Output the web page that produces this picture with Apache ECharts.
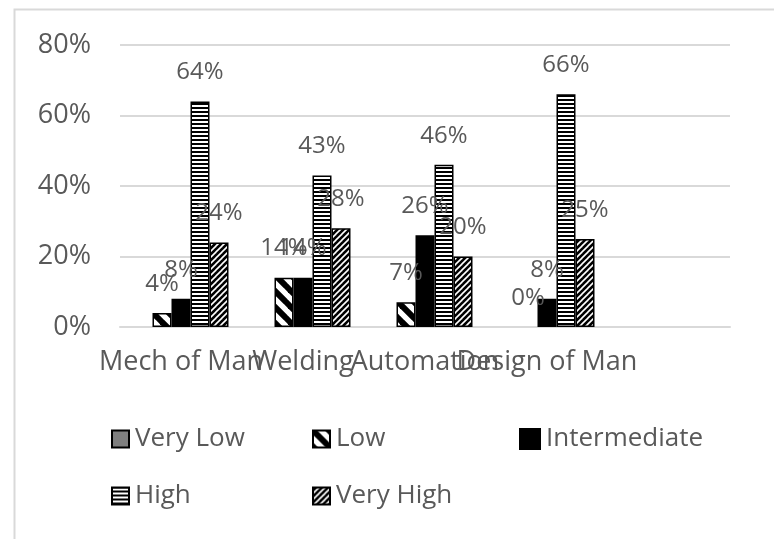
<!DOCTYPE html>
<html>
<head>
<meta charset="utf-8">
<script src="https://cdn.jsdelivr.net/npm/echarts@6/dist/echarts.min.js"></script>
<style>
  html, body { margin: 0; padding: 0; background: #fff; }
  #chart { width: 774px; height: 539px; }
</style>
</head>
<body>
<div id="chart"></div>
<script>
// Survey results per course, in percent
const categories = ['Mech of Man', 'Welding', 'Automation', 'Design of Man', ''];
const seriesNames = ['Very Low', 'Low', 'Intermediate', 'High', 'Very High'];
const veryLow      = [null, null, null, null, null];
const low          = [4, 14, 7, 0, null];
const intermediate = [8, 14, 26, 8, null];
const high         = [64, 43, 46, 66, null];
const veryHigh     = [24, 28, 20, 25, null];
const yTicks = { min: 0, max: 80, step: 20 };

const FONT = '"Open Sans", sans-serif';
const TEXT = '#595959';
const GRID = '#d9d9d9';

// Fill patterns drawn on small tiles
function tile(size, draw) {
  const c = document.createElement('canvas');
  c.width = size; c.height = size;
  const ctx = c.getContext('2d');
  draw(ctx, size);
  return { image: c, repeat: 'repeat' };
}
// wide downward diagonal: black "\" bands on white
const patLow = tile(16, (ctx, s) => {
  ctx.fillStyle = '#fff'; ctx.fillRect(0, 0, s, s);
  ctx.strokeStyle = '#000'; ctx.lineWidth = 6;
  for (let k = -1; k <= 1; k++) {
    ctx.beginPath(); ctx.moveTo(k * s - 2, -2); ctx.lineTo(k * s + s + 2, s + 2); ctx.stroke();
  }
});
// horizontal stripes
const patHigh = tile(4, (ctx, s) => {
  ctx.fillStyle = '#000'; ctx.fillRect(0, 0, s, s);
  ctx.fillStyle = '#fff'; ctx.fillRect(0, 1, s, 2);
});
// upward diagonal white strokes on black
const patVeryHigh = tile(6, (ctx, s) => {
  ctx.fillStyle = '#000'; ctx.fillRect(0, 0, s, s);
  ctx.strokeStyle = '#fff'; ctx.lineWidth = 1.6;
  for (let k = -1; k <= 1; k++) {
    ctx.beginPath(); ctx.moveTo(k * s - 1, s + 1); ctx.lineTo(k * s + s + 1, -1); ctx.stroke();
  }
});

const fills = ['#7f7f7f', patLow, '#000000', patHigh, patVeryHigh];
const values = [veryLow, low, intermediate, high, veryHigh];

// zero-height bars keep their label but drop the outline
const toItems = arr => arr.map(v => (v === 0 ? { value: v, itemStyle: { borderWidth: 0 } } : v));

const series = seriesNames.map((name, i) => ({
  name,
  type: 'bar',
  data: toItems(values[i]),
  barWidth: 19,
  barGap: '0%',
  itemStyle: { color: fills[i], borderColor: '#000', borderWidth: 1.5 },
  label: {
    show: i > 0,
    position: 'top',
    distance: 17,
    formatter: p => (p.value == null ? '' : p.value + '%'),
    fontFamily: FONT, fontSize: 24, color: TEXT
  }
}));

// Legend laid out in fixed columns: one component per entry
const legendSlots = [
  { left: 106, top: 421 }, { left: 307, top: 421 }, { left: 514, top: 421 },
  { left: 106, top: 478 }, { left: 307, top: 478 }
];
const legend = seriesNames.map((name, i) => ({
  data: [name],
  left: legendSlots[i].left,
  top: legendSlots[i].top,
  icon: 'rect',
  itemWidth: i === 2 ? 20 : 17,
  itemHeight: i === 2 ? 20 : 17,
  selectedMode: false,
  textStyle: { fontFamily: FONT, fontSize: 26, color: TEXT, padding: [0, 0, 0, 1] }
}));

const chart = echarts.init(document.getElementById('chart'), null, { renderer: 'canvas' });
chart.setOption({
  animation: false,
  backgroundColor: '#fff',
  graphic: [{
    type: 'rect', left: 12, top: 7, z: -1,
    shape: { width: 800, height: 600 },
    style: { fill: 'none', stroke: GRID, lineWidth: 2 }
  }],
  grid: { left: 120, right: 44, top: 45, bottom: 212 },
  legend,
  xAxis: {
    type: 'category',
    data: categories,
    axisLine: { lineStyle: { color: GRID, width: 2 } },
    axisTick: { show: false },
    axisLabel: { interval: 0, margin: 22, fontFamily: FONT, fontSize: 27, color: TEXT }
  },
  yAxis: {
    type: 'value',
    min: yTicks.min, max: yTicks.max, interval: yTicks.step,
    axisLine: { show: false },
    axisTick: { show: false },
    splitLine: { lineStyle: { color: GRID, width: 2 } },
    axisLabel: { formatter: '{value}%', margin: 29, fontFamily: FONT, fontSize: 27, color: TEXT }
  },
  series
});
</script>
</body>
</html>
